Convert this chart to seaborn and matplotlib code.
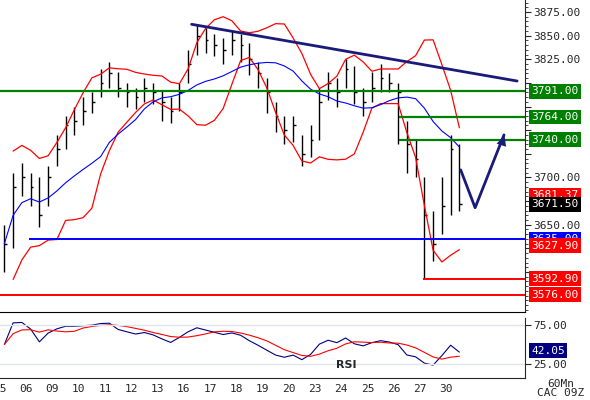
import numpy as np
import pandas as pd
import matplotlib
matplotlib.use("Agg")
import matplotlib.pyplot as plt
import seaborn as sns

# trading days shown on the x axis
day_labels = ['05', '06', '09', '10', '11', '12', '13', '16', '17', '18',
              '19', '20', '23', '24', '25', '26', '27', '30']

# three bars per day (the last day has two)
closes = [3630, 3690, 3700, 3690, 3660, 3700, 3730, 3755, 3760,
          3770, 3780, 3800, 3810, 3795, 3790, 3785, 3795, 3790,
          3780, 3770, 3790, 3820, 3850, 3845, 3840, 3835, 3845,
          3840, 3825, 3810, 3790, 3765, 3750, 3755, 3725, 3740,
          3780, 3800, 3790, 3815, 3790, 3780, 3795, 3805, 3800,
          3790, 3735, 3720, 3660, 3630, 3670, 3730, 3671.5]
highs = [3650, 3705, 3715, 3705, 3700, 3712, 3745, 3765, 3775,
         3785, 3790, 3815, 3822, 3812, 3800, 3795, 3805, 3800,
         3792, 3785, 3800, 3835, 3862, 3858, 3852, 3848, 3855,
         3852, 3842, 3822, 3805, 3780, 3765, 3765, 3745, 3755,
         3795, 3812, 3805, 3825, 3818, 3795, 3812, 3820, 3810,
         3800, 3760, 3740, 3700, 3665, 3700, 3745, 3735]
lows = [3600, 3625, 3680, 3670, 3648, 3670, 3712, 3730, 3745,
        3755, 3768, 3785, 3795, 3785, 3775, 3772, 3780, 3778,
        3760, 3758, 3770, 3800, 3830, 3832, 3828, 3820, 3830,
        3822, 3808, 3795, 3768, 3748, 3735, 3738, 3712, 3722,
        3740, 3782, 3775, 3795, 3778, 3765, 3780, 3790, 3790,
        3735, 3705, 3700, 3592.9, 3612, 3640, 3660, 3665]

support_green = [3791.00, 3764.00, 3740.00]
support_blue = 3635.00
low_red = 3592.90
floor_red = 3576.00
trend_x = [7.3, 19.7]
trend_y = [3862, 3802]
arrow_x = [17.55, 18.1, 19.2]
arrow_y = [3708, 3668, 3745]

bars_per_day = [3] * 17 + [2]
xs = []
for d, n in enumerate(bars_per_day):
    for i in range(n):
        xs.append(d + (i + 0.5) / 3)
df = pd.DataFrame({'x': xs, 'close': closes, 'high': highs, 'low': lows})
roll = df['close'].rolling(7, min_periods=2)
df['ma'] = roll.mean()
df['up'] = df['ma'] + 1.6 * roll.std()
df['dn'] = df['ma'] - 1.6 * roll.std()
df['ma2'] = df['close'].rolling(12, min_periods=1).mean()

delta = df['close'].diff().fillna(0)
gain = delta.clip(lower=0).ewm(alpha=1 / 8, adjust=False).mean() + 3
loss = (-delta.clip(upper=0)).ewm(alpha=1 / 8, adjust=False).mean() + 3
df['rsi'] = 100 - 100 / (1 + gain / loss)
df['rsi_ma'] = df['rsi'].rolling(5, min_periods=1).mean()

sns.set_style("white")
plt.rcParams['font.family'] = ['DejaVu Sans Mono']

fig = plt.figure(figsize=(5.9, 4.0), dpi=100)
ax = fig.add_axes([0, 0.22, 525 / 590, 0.78])
ax2 = fig.add_axes([0, 0.055, 525 / 590, 0.15])

ax.vlines(df['x'], df['low'], df['high'], color='black', lw=1)
ax.hlines(df['close'], df['x'], df['x'] + 0.1, color='black', lw=1)
sns.lineplot(data=df, x='x', y='up', ax=ax, color='red', lw=0.9)
sns.lineplot(data=df, x='x', y='dn', ax=ax, color='red', lw=0.9)
sns.lineplot(data=df, x='x', y='ma2', ax=ax, color='blue', lw=0.8)

for v in support_green:
    start = 0 if v == 3791.00 else 15.2
    ax.hlines(v, start, 20, color='green', lw=1.6)
ax.hlines(support_blue, 1.1, 20, color='blue', lw=1.4)
ax.hlines(low_red, 16.1, 20, color='red', lw=1.4)
ax.hlines(floor_red, 0, 20, color='red', lw=1.4)
ax.plot(trend_x, trend_y, color='#1a1a7a', lw=2)
ax.plot(arrow_x, arrow_y, color='#1a1a7a', lw=2)
ax.annotate('', xy=(arrow_x[2] + 0.05, arrow_y[2] + 2), xytext=(arrow_x[1] + 0.6, 3700),
            arrowprops=dict(arrowstyle='-|>', color='#1a1a7a', lw=0, mutation_scale=18))

ax.set_xlim(0, 20)
ax.set_ylim(3557.7, 3887.7)
ax.yaxis.tick_right()
ticks = np.arange(3600, 3876, 25)
ax.set_yticks(ticks)
# tick labels hidden under a price tag are dropped
covered = [3600, 3725, 3750, 3775, 3800]
ax.set_yticklabels(['' if v in covered else f'{v:.2f}' for v in ticks], fontsize=8)
ax.set_yticks(np.arange(3560, 3886, 5), minor=True)
ax.tick_params(axis='y', which='both', direction='out', right=True, length=4, pad=2)
ax.tick_params(axis='y', which='minor', length=2)
ax.set_xticks([])
ax.set_xlabel('')
ax.set_ylabel('')
for s in ['top', 'left']:
    ax.spines[s].set_visible(False)
ax.spines['bottom'].set_color('black')

tags = [(3791.00, 'green'), (3764.00, 'green'), (3740.00, 'green'),
        (3681.37, 'red'), (3671.50, 'black'), (3635.00, 'blue'),
        (3627.90, 'red'), (3592.90, 'red'), (3576.00, 'red')]
for v, bg in tags:
    ax.text(1.012, v, f'{v:.2f}', transform=ax.get_yaxis_transform(), fontsize=8,
            color='white', va='center', ha='left', zorder=5, clip_on=False,
            bbox=dict(boxstyle='square,pad=0.2', fc=bg, ec='none'))

sns.lineplot(data=df, x='x', y='rsi', ax=ax2, color='navy', lw=0.8)
sns.lineplot(data=df, x='x', y='rsi_ma', ax=ax2, color='red', lw=0.8)
ax2.axhline(75, color='#dde6ee', lw=1)
ax2.axhline(25, color='#dde6ee', lw=1)
ax2.text(12.8, 20, 'RSI', fontsize=8, fontweight='bold', family='DejaVu Sans')
ax2.set_xlim(0, 20)
ax2.set_ylim(7, 84)
ax2.yaxis.tick_right()
ax2.set_yticks([25, 75])
ax2.set_yticklabels(['25.00', '75.00'], fontsize=8)
ax2.tick_params(axis='y', direction='out', length=4, pad=2)
ax2.set_xticks(range(len(day_labels)))
ax2.set_xticklabels(day_labels, fontsize=8)
ax2.tick_params(axis='x', direction='out', length=3, pad=1)
ax2.set_xlabel('')
ax2.set_ylabel('')
ax2.spines['top'].set_visible(False)
ax2.spines['left'].set_visible(False)
ax2.text(1.012, 42.05, '42.05', transform=ax2.get_yaxis_transform(), fontsize=8,
         color='white', va='center', bbox=dict(boxstyle='square,pad=0.2', fc='navy', ec='none'))

fig.text(0.95, 0.005, '60Mn\nCAC 09Z', fontsize=8, ha='center', va='bottom', linespacing=0.9)
fig.savefig('out.png', dpi=100)
